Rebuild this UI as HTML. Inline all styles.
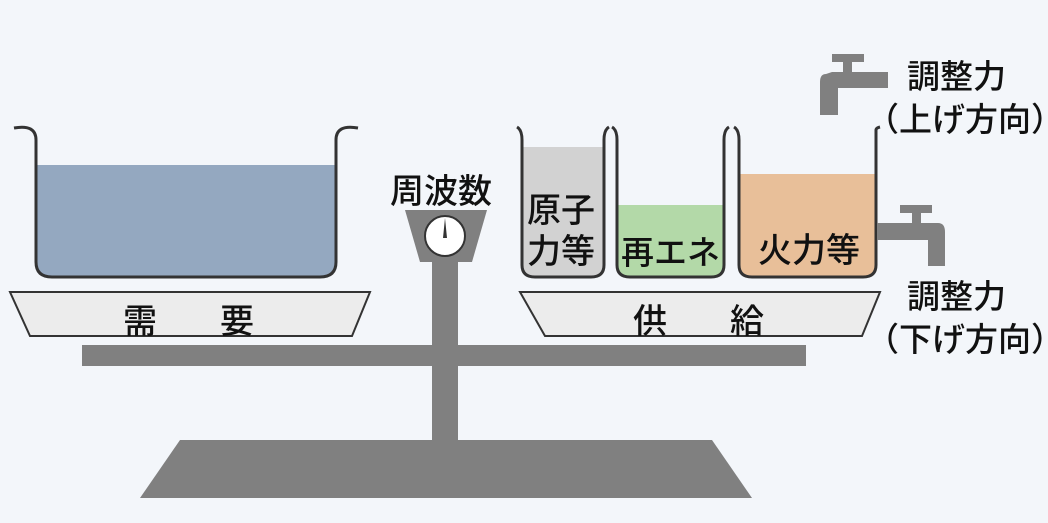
<!DOCTYPE html>
<html><head><meta charset="utf-8"><style>
body{margin:0;background:#f3f6fa;}
svg{display:block;font-family:"Liberation Sans","Noto Sans CJK JP",sans-serif;font-weight:500;}
</style></head><body>
<svg width="1048" height="523" viewBox="0 0 1048 523">
<rect width="1048" height="523" fill="#f3f6fa"/>
<polygon points="180,440 712,440 752,498 140,498" fill="#808080"/>
<rect x="432" y="255" width="26" height="190" fill="#808080"/>
<rect x="82" y="345" width="724" height="21" fill="#808080"/>
<polygon points="10,292 370,292 352,336 30,336" fill="#ececec" stroke="#333" stroke-width="2"/>
<text x="123" y="333" font-size="34" fill="#111">需</text>
<text x="220" y="333" font-size="34" fill="#111">要</text>
<polygon points="520,292 880,292 862,336 545,336" fill="#ececec" stroke="#333" stroke-width="2"/>
<text x="633" y="333" font-size="34" fill="#111">供</text>
<text x="730" y="333" font-size="34" fill="#111">給</text>
<path d="M37,165 H335 V262 Q335,277 320,277 H52 Q37,277 37,262 Z" fill="#94a8c0"/>
<path d="M14,128 Q36,124 36,140 V262 Q36,277 52,277 H320 Q336,277 336,262 V140 Q336,124 358,128" fill="none" stroke="#333" stroke-width="3"/>
<text x="390" y="203" font-size="34" fill="#111">周波数</text>
<polygon points="405,210 487,210 472,262 420,262" fill="#808080"/>
<circle cx="445" cy="236" r="20" fill="#fff" stroke="#333" stroke-width="2"/>
<polygon points="443,238 445,218 447,238" fill="#333"/>
<path d="M523,147 H603 V265 Q603,277 591,277 H535 Q523,277 523,265 Z" fill="#d2d2d2"/>
<path d="M517,127 Q522,130 522,140 V265 Q522,277 535,277 H591 Q604,277 604,265 V140 Q604,130 609,127" fill="none" stroke="#333" stroke-width="3"/>
<text x="527" y="222" font-size="34" fill="#111">原子</text>
<text x="527" y="263" font-size="34" fill="#111">力等</text>
<path d="M618,205 H723 V265 Q723,277 711,277 H630 Q618,277 618,265 Z" fill="#b3d9a8"/>
<path d="M612,127 Q617,130 617,140 V265 Q617,277 630,277 H711 Q724,277 724,265 V140 Q724,130 729,127" fill="none" stroke="#333" stroke-width="3"/>
<text x="621" y="264" font-size="33" fill="#111">再エネ</text>
<path d="M740,174 H875 V265 Q875,277 863,277 H752 Q740,277 740,265 Z" fill="#e8bf99"/>
<path d="M734,127 Q739,130 739,140 V265 Q739,277 752,277 H863 Q876,277 876,265 V130 Q876,128 880,127" fill="none" stroke="#333" stroke-width="3"/>
<text x="758" y="262" font-size="34" fill="#111">火力等</text>
<g fill="#808080">
<rect x="832" y="54" width="32" height="8"/>
<rect x="843" y="60" width="9" height="12"/>
<path d="M826,74 Q820,74 820,82 V115 H838 V88 H888 V72 H832 Z"/>
<rect x="900" y="205" width="32" height="8"/>
<rect x="912" y="211" width="9" height="12"/>
<path d="M877,223 H938 Q945,223 945,232 V266 H928 V240 H877 Z"/>
</g>
<text x="907" y="88" font-size="33" fill="#111">調整力</text>
<text x="866" y="131" font-size="33" fill="#111">（上げ方向）</text>
<text x="907" y="308" font-size="33" fill="#111">調整力</text>
<text x="866" y="351" font-size="33" fill="#111">（下げ方向）</text>
</svg>
</body></html>
